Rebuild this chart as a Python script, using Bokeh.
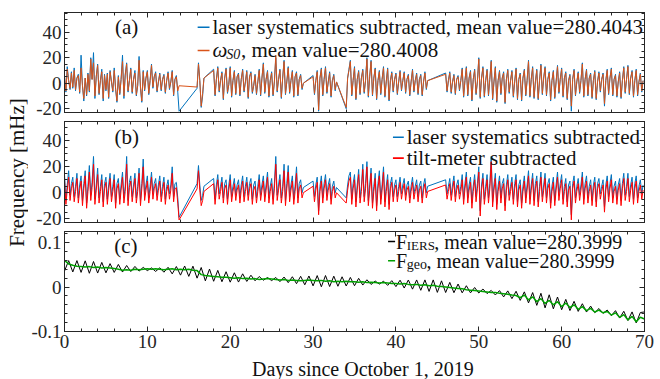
import numpy as np
from bokeh.plotting import figure
from bokeh.layouts import row, column
from bokeh.models import (Range1d, FixedTicker, LinearAxis, CustomJSTickFormatter,
                          Label, BoxAnnotation)
from bokeh.embed import file_html
from bokeh.resources import INLINE

# ---------------- data ----------------
# days with samples in panels (a) and (b); 6 samples per day
days_ab = list(range(0, 14)) + [16] + list(range(18, 29)) + [30, 31, 32] + \
    list(range(34, 44)) + list(range(46, 70))
sub_day = [0.0, 0.17, 0.33, 0.5, 0.67, 0.83]

a_laser = [
    6, -7, 13, 2, -5, 9,  -4, 12, -6, 4, 7, -8,  22, -2, -14, 4, -10, 8,
    -7, 20, 3, 24, -12, 5,  15, -9, 2, 11, -14, 7,  -6, 8, -12, 10, 1, -7,
    12, -5, -15, 6, -9, 3,  22, -12, 7, 16, -7, 2,  12, -8, 3, 10, -10, -2,
    21, -4, -15, 10, -6, 4,  10, -9, 2, 15, -4, 5,  9, -7, 1, 8, -6, 3,
    7, -8, 2, 9, -5, 1,  10, -10, 3, 6, -7, -22,
    -4, 16, 2, -19, -10, 4,
    11, -10, 3, 13, -7, 2,  9, -13, 4, 12, -8, -1,  13, -11, 2, 10, -9, 5,
    8, -10, 3, 11, -7, 1,  10, -12, 5, 9, -8, -2,  7, -9, 1, 11, -10, 4,
    16, -8, 3, 10, -11, 2,  9, -10, 1, 20, -7, 3,  11, -12, 4, 18, -9, 1,
    13, -8, 2, 10, -11, 5,  9, -10, 3, 7, -5, 0,
    6, -9, 2, 10, -22, 4,  12, -10, 3, 13, -8, 1,  9, -11, 2, 7, -6, 1,
    -20, 4, 11, 18, -10, 2,  13, -13, 3, 10, -9, 4,  11, -8, 2, 20, -11, 5,
    18, -10, 4, 12, -13, 2,  10, -9, 3, 13, -11, 1,  12, -14, 2, 9, -7, 3,
    8, -9, 1, 10, -6, 2,  9, -8, 3, 7, -10, 1,  11, -7, 2, 8, -9, 3,
    7, -10, 1, 9, -5, 2,
    8, -7, 2, 9, -8, 1,  7, -9, 3, 6, -6, 2,  12, -11, 2, 13, -10, 4,
    10, -14, 3, 11, -9, 1,  20, -12, 4, 13, -11, 2,  11, -10, 3, 18, -13, 1,
    13, -15, 2, 10, -9, 4,  9, -16, 3, 11, -8, 2,  10, -11, 1, 12, -13, 3,
    8, -14, 4, 11, -10, 2,  18, -11, 3, 13, -12, 1,  11, -13, 2, 15, -9, 4,
    13, -10, 3, 9, -14, 2,  10, -12, 1, 14, -8, 3,  12, -11, 4, 9, -13, 2,
    7, -22, 3, 11, -10, 1,  9, -8, 2, 16, -11, 3,  11, -10, 4, 8, -12, 2,
    10, -13, 1, 9, -7, 3,  8, -18, 2, 11, -9, 4,  12, -10, 3, 7, -11, 1,
    9, -12, 2, 13, -8, 3,  14, -9, 4, 10, -11, 2,  11, -10, 1, 8, -7, 2,
]

a_omega = [
    5, -6, 11, 2, -4, 8,  -3, 10, -5, 4, 6, -7,  12, -2, -12, 4, -9, 7,
    -6, 19, 3, 16, -10, 5,  14, -8, 2, 9, -12, 6,  -5, 7, -11, 9, 1, -6,
    10, -4, -14, 5, -8, 3,  17, -10, 6, 15, -6, 2,  11, -7, 3, 8, -9, -2,
    18, -3, -14, 9, -5, 4,  9, -8, 2, 14, -3, 5,  8, -6, 1, 7, -5, 3,
    6, -7, 2, 8, -4, 1,  9, -9, 3, 5, -6, -2,
    -3, 15, 2, -18, -8, 4,
    10, -9, 3, 12, -6, 2,  8, -12, 4, 11, -7, -1,  12, -10, 2, 9, -8, 5,
    7, -9, 3, 10, -6, 1,  9, -11, 5, 8, -7, -2,  6, -8, 1, 10, -9, 4,
    15, -7, 3, 9, -10, 2,  8, -9, 1, 22, -6, 3,  10, -11, 4, 17, -8, 1,
    12, -7, 2, 9, -10, 5,  8, -9, 3, 6, -4, 0,
    5, -8, 2, 9, -21, 4,  11, -9, 3, 12, -7, 1,  8, -10, 2, 6, -5, 1,
    -19, 4, 10, 17, -9, 2,  12, -12, 3, 9, -8, 4,  10, -7, 2, 19, -10, 5,
    17, -9, 4, 11, -12, 2,  9, -8, 3, 12, -10, 1,  11, -13, 2, 8, -6, 3,
    7, -8, 1, 9, -5, 2,  8, -7, 3, 6, -9, 1,  10, -6, 2, 7, -8, 3,
    6, -9, 1, 8, -4, 2,
    7, -6, 2, 8, -7, 1,  6, -8, 3, 5, -5, 2,  11, -10, 2, 12, -9, 4,
    9, -13, 3, 10, -8, 1,  19, -11, 4, 12, -10, 2,  10, -9, 3, 17, -12, 1,
    12, -14, 2, 9, -8, 4,  8, -15, 3, 10, -7, 2,  9, -10, 1, 11, -12, 3,
    7, -13, 4, 10, -9, 2,  17, -10, 3, 12, -11, 1,  10, -12, 2, 14, -8, 4,
    12, -9, 3, 8, -13, 2,  9, -11, 1, 13, -7, 3,  11, -10, 4, 8, -12, 2,
    6, -18, 3, 10, -9, 1,  8, -7, 2, 15, -10, 3,  10, -9, 4, 7, -11, 2,
    9, -12, 1, 8, -6, 3,  7, -16, 2, 10, -8, 4,  11, -9, 3, 6, -10, 1,
    8, -11, 2, 12, -7, 3,  13, -8, 4, 9, -10, 2,  10, -9, 1, 7, -6, 2,
]

b_laser = [
    14, -6, 6, 17, -2, 7,  12, -3, 5, 15, -4, 6,  13, -6, 7, 17, -8, 5,
    21, -2, 8, 28, -5, 6,  19, -4, 5, 14, -7, 7,  12, -5, 6, 15, -3, 5,
    14, -8, 7, 11, -5, 6,  16, -4, 5, 28, -6, 8,  13, -3, 6, 15, -4, 5,
    19, -6, 7, 26, -2, 6,  13, -4, 5, 16, -1, 7,  11, -2, 6, 13, -3, 5,
    12, -5, 5, 10, -1, 6,  20, -3, 7, 8, -4, -19,
    7, 21, 6, -6, -2, 5,
    11, -5, 6, 14, -1, 5,  12, -4, 7, 10, -5, 6,  14, -3, 5, 11, -2, 6,
    10, -4, 6, 13, -3, 5,  12, -2, 7, 11, -5, 6,  9, -4, 5, 14, -2, 6,
    13, -3, 6, 16, -4, 5,  11, -5, 7, 28, -2, 6,  14, -4, 5, 22, -6, 7,
    21, -3, 6, 13, -5, 5,  20, -4, 7, 10, 0, 4,
    9, -3, 6, 12, -14, 5,  13, -4, 7, 14, -2, 6,  11, -5, 5, 9, 0, 4,
    -4, 6, 13, 16, -5, 7,  14, -7, 6, 18, -4, 5,  22, -3, 7, 24, -6, 6,
    19, -8, 5, 15, -10, 7,  17, -5, 6, 20, -7, 5,  14, -9, 7, 12, -3, 6,
    10, -3, 5, 12, -1, 6,  11, -2, 6, 9, -4, 5,  12, -1, 5, 10, -3, 6,
    9, -4, 6, 11, 0, 5,
    10, -1, 5, 11, -2, 6,  13, -3, 6, 10, -1, 5,  14, -5, 7, 16, -4, 6,
    12, -8, 5, 14, -3, 7,  20, -14, 6, 15, -5, 5,  14, -4, 7, 28, -7, 6,
    15, -9, 5, 13, -4, 7,  11, -10, 6, 14, -2, 5,  12, -5, 7, 14, -7, 6,
    10, -8, 5, 13, -4, 6,  17, -5, 6, 15, -6, 7,  13, -7, 5, 16, -3, 6,
    15, -4, 7, 11, -8, 5,  12, -6, 6, 16, -2, 7,  14, -5, 5, 11, -7, 6,
    9, -17, 7, 13, -4, 5,  11, -2, 6, 16, -5, 7,  13, -4, 5, 10, -6, 6,
    12, -7, 7, 11, -1, 5,  10, -11, 6, 13, -3, 7,  14, -4, 5, 9, -5, 6,
    11, -6, 7, 15, -2, 5,  15, -3, 6, 12, -5, 7,  13, -4, 5, 10, -1, 6,
]

b_tilt = [
    10, -9, 2, 12, -6, 3,  8, -7, 1, 11, -8, 2,  9, -10, 3, 13, -12, 1,
    16, -6, 4, 22, -9, 2,  14, -8, 1, 10, -11, 3,  8, -9, 2, 11, -7, 1,
    10, -12, 3, 7, -9, 2,  12, -8, 1, 22, -10, 4,  9, -7, 2, 11, -8, 1,
    15, -10, 3, 20, -6, 2,  9, -8, 1, 12, -5, 3,  7, -6, 2, 9, -7, 1,
    8, -9, 1, 6, -5, 2,  15, -7, 3, 4, -8, -21,
    3, 17, 2, -10, -6, 1,
    7, -9, 2, 10, -5, 1,  8, -8, 3, 6, -9, 2,  10, -7, 1, 7, -6, 2,
    6, -8, 2, 9, -7, 1,  8, -6, 3, 7, -9, 2,  5, -8, 1, 10, -6, 2,
    9, -7, 2, 12, -8, 1,  7, -9, 3, 22, -6, 2,  10, -8, 1, 17, -10, 3,
    16, -7, 2, 9, -9, 1,  15, -8, 3, 6, -4, 0,
    5, -7, 2, 8, -17, 1,  9, -8, 3, 10, -6, 2,  7, -9, 1, 5, -4, 0,
    -8, 2, 9, 12, -9, 3,  10, -11, 2, 14, -8, 1,  18, -7, 3, 20, -10, 2,
    15, -12, 1, 11, -14, 3,  13, -9, 2, 16, -11, 1,  10, -13, 3, 8, -7, 2,
    6, -7, 1, 8, -5, 2,  7, -6, 2, 5, -8, 1,  8, -5, 1, 6, -7, 2,
    5, -8, 2, 7, -4, 1,
    6, -5, 1, 7, -6, 2,  9, -7, 2, 6, -5, 1,  10, -9, 3, 12, -8, 2,
    8, -12, 1, 10, -7, 3,  16, -18, 2, 11, -9, 1,  10, -8, 3, 24, -11, 2,
    11, -13, 1, 9, -8, 3,  7, -14, 2, 10, -6, 1,  8, -9, 3, 10, -11, 2,
    6, -12, 1, 9, -8, 2,  13, -9, 2, 11, -10, 3,  9, -11, 1, 12, -7, 2,
    11, -8, 3, 7, -12, 1,  8, -10, 2, 12, -6, 3,  10, -9, 1, 7, -11, 2,
    5, -21, 3, 9, -8, 1,  7, -6, 2, 12, -9, 3,  9, -8, 1, 6, -10, 2,
    8, -11, 3, 7, -5, 1,  6, -15, 2, 9, -7, 3,  10, -8, 1, 5, -9, 2,
    7, -10, 3, 11, -6, 1,  11, -7, 2, 8, -9, 3,  9, -8, 1, 6, -5, 2,
]

# panel (c): samples every half day
t_c = [0.5 * k for k in range(141)]
c_iers = [
    0.036, 0.0595, 0.034, 0.0595, 0.033, 0.059, 0.031, 0.0575, 0.0315, 0.0555,
    0.032, 0.0527, 0.0329, 0.0509, 0.0338, 0.0485, 0.0349, 0.0464, 0.0359, 0.0443,
    0.037, 0.0431, 0.0352, 0.0433, 0.0334, 0.0445, 0.0296, 0.0462, 0.0268, 0.0474,
    0.024, 0.047, 0.020, 0.044, 0.014, 0.0405, 0.013, 0.0375, 0.012, 0.0345,
    0.011, 0.0321, 0.0112, 0.0298, 0.0127, 0.0266, 0.0141, 0.0237, 0.0153, 0.0214,
    0.0145, 0.0216, 0.0122, 0.0225, 0.0099, 0.0232, 0.0076, 0.0242, 0.0051, 0.0249,
    0.0027, 0.0258, 0.0006, 0.0259, 0.0012, 0.0245, 0.0018, 0.0231, 0.0024, 0.0217,
    0.003, 0.0196, 0.0045, 0.0164, 0.0059, 0.0135, 0.0066, 0.0132, 0.0038, 0.0144,
    0.001, 0.0154, -0.0022, 0.0159, -0.0047, 0.016, -0.0073, 0.0161, -0.0098, 0.0161,
    -0.012, 0.014, -0.0123, 0.0105, -0.0127, 0.0068, -0.013, 0.003, -0.013, -0.001,
    -0.0134, -0.0044, -0.0147, -0.0076, -0.0178, -0.008, -0.0222, -0.0086, -0.0261, -0.0095,
    -0.030, -0.0108, -0.0356, -0.0124, -0.0412, -0.014, -0.0468, -0.0174, -0.0489, -0.0224,
    -0.051, -0.0277, -0.0529, -0.0321, -0.0548, -0.0375, -0.0562, -0.0429, -0.0576, -0.0483,
    -0.059, -0.0517, -0.0644, -0.0531, -0.0698, -0.0545, -0.0752, -0.0559, -0.0806, -0.0573,
    -0.056,
]
c_geo = [
    0.060, 0.052, 0.049, 0.047, 0.046, 0.045, 0.046, 0.044, 0.045, 0.043,
    0.044, 0.043, 0.042, 0.040, 0.038, 0.039, 0.038, 0.040, 0.039, 0.040,
    0.041, 0.040, 0.041, 0.040, 0.039, 0.040, 0.041, 0.039, 0.040, 0.039,
    0.040, 0.038, 0.037, 0.028, 0.026, 0.025, 0.024, 0.023, 0.022, 0.022,
    0.021, 0.020, 0.021, 0.019, 0.020, 0.018, 0.019, 0.017, 0.018, 0.019,
    0.018, 0.017, 0.016, 0.017, 0.015, 0.016, 0.015, 0.014, 0.015, 0.016,
    0.015, 0.014, 0.015, 0.013, 0.014, 0.012, 0.013, 0.012, 0.013, 0.012,
    0.012, 0.011, 0.012, 0.010, 0.011, 0.010, 0.009, 0.010, 0.009, 0.008,
    0.008, 0.007, 0.008, 0.006, 0.005, 0.006, 0.004, 0.005, 0.003, 0.004,
    0.002, 0.001, 0.000, -0.001, -0.002, -0.003, -0.004, -0.006, -0.007, -0.008,
    -0.009, -0.010, -0.011, -0.012, -0.012, -0.014, -0.015, -0.016, -0.018, -0.019,
    -0.024, -0.018, -0.029, -0.022, -0.033, -0.026, -0.037, -0.030, -0.040, -0.033,
    -0.044, -0.036, -0.046, -0.040, -0.050, -0.044, -0.053, -0.048, -0.056, -0.052,
    -0.058, -0.055, -0.063, -0.058, -0.068, -0.062, -0.074, -0.066, -0.078, -0.068,
    -0.072,
]

x_major = [0, 10, 20, 30, 40, 50, 60, 70]
x_minor = list(range(0, 71, 2))
ab_major = [-20, 0, 20, 40]
ab_minor = list(range(-20, 56, 5))
c_major = [-0.1, 0, 0.1]
c_minor = [-0.1, -0.08, -0.06, -0.04, -0.02, 0, 0.02, 0.04, 0.06, 0.08, 0.1, 0.12]

labels_a = ["laser systematics subtracted, mean value=280.4043", ", mean value=280.4008"]
labels_b = ["laser systematics subtracted", "tilt-meter subtracted"]
labels_c = [", mean value=280.3999", ", mean value=280.3999"]

# ---------------- styling ----------------
FONT = "Liberation Serif"
AX = "#262626"
TXT = "#111111"
BLUE = "#0072BD"
ORANGE = "#D95319"
RED = "#FF0000"
GREEN = "#00A000"

t_ab = [d + s for d in days_ab for s in sub_day]

TICK_FMT = "if (Math.abs(tick) < 1e-12) { return '0'; } return String(Math.round(tick * 1000) / 1000);"


def xy(t, v):
    n = min(len(t), len(v))
    return list(t[:n]), list(v[:n])


def style_axis(ax, show):
    ax.axis_line_color = AX
    ax.major_tick_line_color = AX
    ax.minor_tick_line_color = AX
    ax.major_tick_in = 5
    ax.major_tick_out = 0
    ax.minor_tick_in = 3
    ax.minor_tick_out = 0
    if show:
        ax.formatter = CustomJSTickFormatter(code=TICK_FMT)
        ax.major_label_text_font = FONT
        ax.major_label_text_font_size = "19px"
        ax.major_label_text_color = AX
        ax.major_label_standoff = 3
    else:
        ax.formatter = CustomJSTickFormatter(code="return ''")
        ax.major_label_text_font_size = "0px"
        ax.major_label_standoff = 0


def panel(height, top, bottom, yr, ymaj, ymin, show_x):
    p = figure(width=626, height=height, title=None,
               x_range=Range1d(0, 70), y_range=Range1d(*yr),
               output_backend="svg", toolbar_location=None,
               x_axis_location=None, y_axis_location=None,
               min_border_left=34, min_border_right=10,
               min_border_top=top, min_border_bottom=bottom)
    p.grid.visible = False
    p.outline_line_color = AX
    xt = FixedTicker(ticks=x_major, minor_ticks=x_minor)
    yt = FixedTicker(ticks=ymaj, minor_ticks=ymin)
    for loc, tk, show in [("below", xt, show_x), ("above", xt, False),
                          ("left", yt, True), ("right", yt, False)]:
        ax = LinearAxis(ticker=tk)
        style_axis(ax, show)
        p.add_layout(ax, loc)
    return p


def lab(p, x, y, text, size="21px", style="normal", align="left"):
    p.add_layout(Label(x=x, y=y, text=text, text_font=FONT, text_font_size=size,
                       text_font_style=style, text_color=TXT, text_align=align,
                       text_baseline="middle"))


def key(p, x0, x1, y, h, color):
    p.add_layout(BoxAnnotation(left=x0, right=x1, bottom=y - h, top=y + h,
                               fill_color=color, fill_alpha=1.0, line_color=None))


# ---------------- panel (a) ----------------
pa = panel(120, 12, 8, (-23, 55.5), ab_major, ab_minor, False)
pa.line(*xy(t_ab, a_laser), line_color=BLUE, line_width=1)
pa.line(*xy(t_ab, a_omega), line_color=ORANGE, line_width=1)
lab(pa, 7.5, 44.5, "(a)", align="center")
key(pa, 16.07, 17.5, 44, 0.6, BLUE)
lab(pa, 17.86, 44, labels_a[0])
key(pa, 16.07, 17.5, 25.7, 0.6, ORANGE)
lab(pa, 17.86, 25.7, "ω", style="italic")
lab(pa, 19.52, 22.4, "S0", size="14px", style="italic")
lab(pa, 21.3, 25.7, labels_a[1])

# ---------------- panel (b) ----------------
pb = panel(109, 1, 7, (-23, 55), ab_major, ab_minor, False)
pb.line(*xy(t_ab, b_laser), line_color=BLUE, line_width=1)
pb.line(*xy(t_ab, b_tilt), line_color=RED, line_width=1)
lab(pb, 7.5, 42.8, "(b)", align="center")
key(pb, 39.64, 40.95, 42.9, 0.6, BLUE)
lab(pb, 41.3, 42.9, labels_b[0])
key(pb, 39.64, 40.95, 26.7, 0.6, RED)
lab(pb, 41.3, 26.7, labels_b[1])

# ---------------- panel (c) ----------------
pc = panel(129, 2, 27, (-0.1, 0.125), c_major, c_minor, True)
pc.line(*xy(t_c, c_iers), line_color="black", line_width=1)
pc.line(*xy(t_c, c_geo), line_color=GREEN, line_width=1.5)
lab(pc, 7.4, 0.0935, "(c)", align="center")
key(pc, 39.05, 39.9, 0.1025, 0.0017, "black")
lab(pc, 40.0, 0.1025, "F", size="20px")
lab(pc, 41.31, 0.0935, "IERS", size="13px")
lab(pc, 44.64, 0.1025, labels_c[0], size="20px")
key(pc, 39.05, 39.9, 0.0593, 0.0017, GREEN)
lab(pc, 40.0, 0.0593, "F", size="20px")
lab(pc, 41.31, 0.0503, "geo", size="14px")
lab(pc, 43.69, 0.0593, labels_c[1], size="20px")

# ---------------- axis titles ----------------
ylab = figure(width=28, height=379, title=None, x_range=Range1d(0, 28),
              y_range=Range1d(0, 379), output_backend="svg", toolbar_location=None,
              x_axis_location=None, y_axis_location=None, min_border=0,
              outline_line_color=None)
ylab.grid.visible = False
ylab.add_layout(Label(x=16, y=379 - 172, text="Frequency [mHz]", angle=np.pi / 2,
                      text_align="center", text_baseline="middle", text_font=FONT,
                      text_font_size="21px", text_color=TXT))

xlab = figure(width=626, height=21, title=None, x_range=Range1d(0, 626),
              y_range=Range1d(0, 21), output_backend="svg", toolbar_location=None,
              x_axis_location=None, y_axis_location=None, min_border=0,
              outline_line_color=None)
xlab.grid.visible = False
xlab.add_layout(Label(x=356 - 34, y=11, text="Days since October 1, 2019",
                      text_align="center", text_baseline="middle", text_font=FONT,
                      text_font_size="20px", text_color=TXT))

layout = row(ylab, column(pa, pb, pc, xlab, spacing=0), spacing=0)

open("out.html", "w").write(file_html(layout, INLINE))
